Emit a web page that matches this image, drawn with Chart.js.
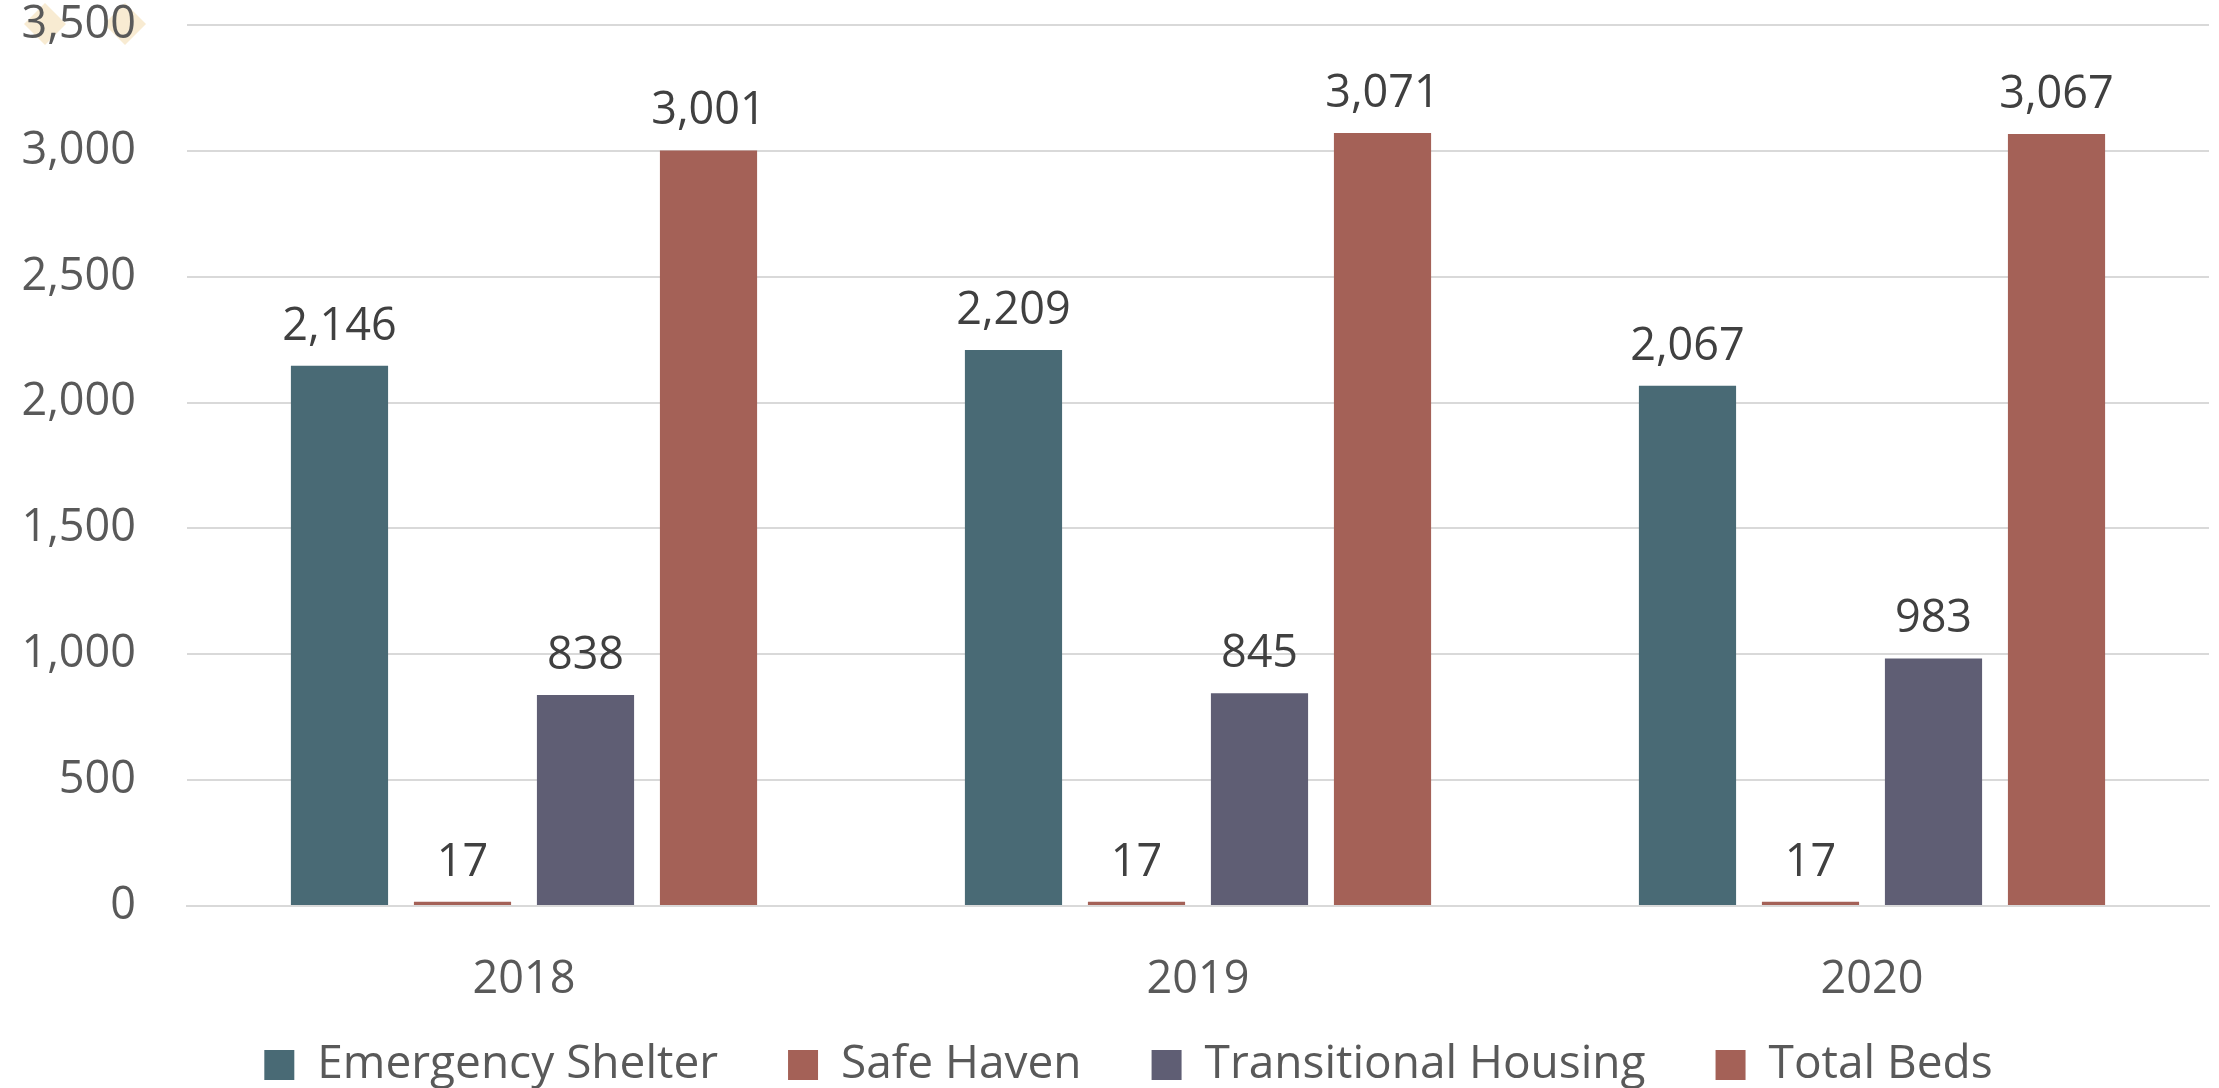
<!DOCTYPE html>
<html>
<head>
<meta charset="utf-8">
<script src="https://cdn.jsdelivr.net/npm/chart.js@4.4.1/dist/chart.umd.min.js"></script>
<style>
  html, body { margin: 0; padding: 0; background: #ffffff; }
  #wrap { width: 2219px; height: 1088px; position: relative; }
</style>
</head>
<body>
<div id="wrap"><canvas id="bedsChart"></canvas></div>
<script>
// Bed inventory by project type, 2018-2020
const years = ['2018', '2019', '2020'];
const emergencyShelter = [2146, 2209, 2067];
const safeHaven = [17, 17, 17];
const transitionalHousing = [838, 845, 983];
const totalBeds = [3001, 3071, 3067];
const yTickValues = [0, 500, 1000, 1500, 2000, 2500, 3000, 3500];

const FONT = '"Open Sans", "DejaVu Sans", sans-serif';
const fmt = v => v.toLocaleString('en-US');

// Value labels above each bar
const valueLabels = {
  id: 'valueLabels',
  afterDatasetsDraw(chart) {
    const ctx = chart.ctx;
    ctx.save();
    ctx.font = '45px ' + FONT;
    ctx.fillStyle = '#404040';
    ctx.textAlign = 'center';
    ctx.textBaseline = 'middle';
    chart.data.datasets.forEach((ds, i) => {
      const meta = chart.getDatasetMeta(i);
      meta.data.forEach((bar, j) => {
        ctx.fillText(fmt(ds.data[j]), bar.x, bar.y - 39);
      });
    });
    ctx.restore();
  }
};

// Faint decorative diamonds behind the top tick label
const cornerMarks = {
  id: 'cornerMarks',
  beforeDraw(chart) {
    const ctx = chart.ctx;
    const y = chart.scales.y.getPixelForValue(3500) - 1;
    ctx.save();
    ctx.fillStyle = '#f8ebd2';
    [45, 125].forEach(cx => {
      ctx.beginPath();
      ctx.moveTo(cx, y - 21);
      ctx.lineTo(cx + 21, y);
      ctx.lineTo(cx, y + 21);
      ctx.lineTo(cx - 21, y);
      ctx.closePath();
      ctx.fill();
    });
    ctx.restore();
  }
};

// Nudge the legend row up and slightly right, under the category labels
const legendPlacement = {
  id: 'legendPlacement',
  afterLayout(chart) {
    const lg = chart.legend;
    if (!lg) return;
    lg.top -= 30;
    lg.bottom -= 30;
    lg.left += 24;
    lg.right += 24;
  }
};

const ctx = document.getElementById('bedsChart');
new Chart(ctx, {
  type: 'bar',
  data: {
    labels: years,
    datasets: [
      { label: 'Emergency Shelter', data: emergencyShelter, backgroundColor: '#496a75' },
      { label: 'Safe Haven', data: safeHaven, backgroundColor: '#a46157' },
      { label: 'Transitional Housing', data: transitionalHousing, backgroundColor: '#5f5e74' },
      { label: 'Total Beds', data: totalBeds, backgroundColor: '#a46157' }
    ]
  },
  options: {
    responsive: true,
    maintainAspectRatio: false,
    animation: false,
    devicePixelRatio: 1,
    layout: { padding: { top: 25, right: 10, left: 0, bottom: -40 } },
    datasets: {
      bar: { categoryPercentage: 0.73, barPercentage: 0.79 }
    },
    plugins: {
      tooltip: { enabled: false },
      legend: {
        position: 'bottom',
        labels: {
          boxWidth: 30,
          boxHeight: 30,
          padding: 70,
          color: '#595959',
          font: { family: FONT, size: 46 }
        }
      }
    },
    scales: {
      x: {
        grid: { display: false, drawTicks: false },
        border: { display: true, color: '#d9d9d9', width: 2 },
        ticks: {
          color: '#595959',
          padding: 52,
          font: { family: FONT, size: 45, lineHeight: 1 }
        },
        afterFit(scale) { scale.height = 96; }
      },
      y: {
        min: 0,
        max: 3500,
        afterBuildTicks(scale) { scale.ticks = yTickValues.map(v => ({ value: v })); },
        grid: { color: '#d9d9d9', lineWidth: 2, drawTicks: false },
        border: { display: false },
        ticks: {
          color: '#595959',
          padding: 51,
          font: { family: FONT, size: 45, lineHeight: 1 },
          callback: v => fmt(v)
        },
        afterFit(scale) {
          scale.width = 187;
          scale.paddingTop = 22;
          scale.paddingBottom = 22;
        }
      }
    }
  },
  plugins: [cornerMarks, valueLabels, legendPlacement]
});
</script>
</body>
</html>
